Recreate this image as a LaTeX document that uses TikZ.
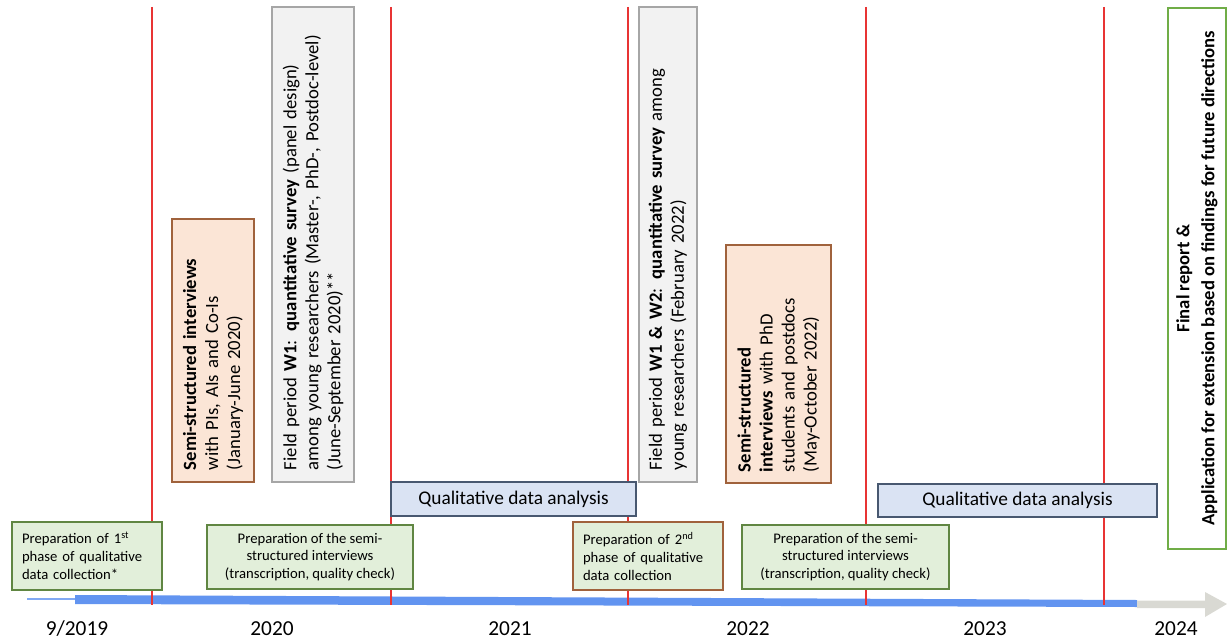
\documentclass[tikz,border=0pt]{standalone}
\usepackage{fontspec}
\setmainfont{Carlito}
\usetikzlibrary{positioning}
\definecolor{cred}{RGB}{232,52,52}
\definecolor{cband}{RGB}{98,148,240}
\definecolor{carrow}{RGB}{217,217,211}
\definecolor{cgreenfill}{RGB}{226,239,218}
\definecolor{cgreen}{RGB}{96,134,66}
\definecolor{cbrown}{RGB}{160,98,60}
\definecolor{corangefill}{RGB}{251,229,214}
\definecolor{cgreyfill}{RGB}{242,242,242}
\definecolor{cgrey}{RGB}{166,166,166}
\definecolor{cbluefill}{RGB}{218,227,243}
\definecolor{cblue}{RGB}{72,88,112}
\definecolor{clime}{RGB}{112,173,71}
\tikzset{
  prepbox/.style={rectangle,fill=cgreenfill,draw=cgreen,line width=0.8pt,
    inner sep=0pt,align=center,font=\fontsize{11}{13.4}\selectfont},
  leftbox/.style={prepbox,align=left,text width=97.5pt,
    minimum width=112.5pt,minimum height=51pt},
  midbox/.style={prepbox,minimum height=48pt},
  qualbox/.style={rectangle,fill=cbluefill,draw=cblue,line width=0.8pt,
    inner sep=0pt,font=\fontsize{14.5}{17}\selectfont},
  % vertical boxes: rotated, text starts at the bottom
  vbox/.style={rectangle,rotate=90,line width=0.8pt,inner sep=0pt,
    align=left,font=\fontsize{14}{16.5}\selectfont},
  intbox/.style={vbox,fill=corangefill,draw=cbrown},
  survbox/.style={vbox,fill=cgreyfill,draw=cgrey},
  year/.style={anchor=base,font=\fontsize{16}{19}\selectfont},
  sep/.style={cred,line width=0.8pt}
}
\begin{document}
\begin{tikzpicture}[x=0.75pt,y=-0.75pt]
  \useasboundingbox (0,0) rectangle (1227,638);
  % time axis
  \draw[cband!80,line width=0.8pt] (27,599) -- (75,599);
  \fill[cband] (75,595) -- (1137,600) -- (1137,607) -- (75,604) -- cycle;
  \fill[carrow] (1137,600.5) -- (1205,600.5) -- (1205,592) -- (1227,604)
    -- (1205,617) -- (1205,608) -- (1137,608) -- cycle;
  \foreach \x in {152,391,628,866,1104}
    \draw[sep] (\x,7) -- (\x,605);
  \node[year] (y2019) at (77,635) {9/2019};
  \node[year] (y2020) at (272,635) {2020};
  \node[year] (y2021) at (510,635) {2021};
  \node[year] (y2022) at (748,635) {2022};
  \node[year] (y2023) at (985,635) {2023};
  \node[year] (y2024) at (1176,635) {2024};
  % preparation phases
  \node[leftbox] (prep1) at (87,556)
    {Preparation of 1\textsuperscript{st}\\phase of qualitative\\data collection*};
  \node[midbox,minimum width=154.5pt] (semiprep1) at (310,557)
    {Preparation of the semi-\\structured interviews\\(transcription, quality check)};
  \node[leftbox,draw=cbrown] (prep2) at (648,556)
    {Preparation of 2\textsuperscript{nd}\\phase of qualitative\\data collection};
  \node[midbox,minimum width=155.25pt] (semiprep2) at (845.5,557)
    {Preparation of the semi-\\structured interviews\\(transcription, quality check)};
  \node[qualbox,minimum width=183.75pt,minimum height=25.5pt] (qual1) at (513.5,499)
    {Qualitative data analysis};
  \node[qualbox,minimum width=209.25pt,minimum height=24.75pt] (qual2) at (1017.5,500.5)
    {Qualitative data analysis};
  % interviews and surveys
  \node[intbox,minimum width=197.25pt,minimum height=61.5pt,text width=179.25pt]
    (semi1) at (213,350.5)
    {\textbf{Semi-structured interviews}\\with PIs, AIs and Co-Is\\(January-June 2020)};
  \node[survbox,minimum width=356.25pt,minimum height=61.5pt,text width=338.25pt]
    (survey1) at (313,244.5)
    {Field period \textbf{W1}: \textbf{quantitative survey} (panel design)\\
     among young researchers (Master-, PhD-, Postdoc-level)\\
     (June-September 2020)**};
  \node[survbox,minimum width=356.25pt,minimum height=43.5pt,text width=338.25pt]
    (survey2) at (668,244.5)
    {Field period \textbf{W1 \& W2}: \textbf{quantitative survey} among\\
     young researchers (February 2022)};
  \node[intbox,minimum width=178.5pt,minimum height=78.75pt,text width=162pt]
    (semi2) at (778.5,364)
    {\textbf{Semi-structured}\\\textbf{interviews} with PhD\\students and postdocs\\(May-October 2022)};
  \node[vbox,draw=clime,fill=white,align=center,minimum width=405.75pt,
    minimum height=43.5pt,font=\fontsize{14}{18.75}\selectfont\bfseries]
    (final) at (1197,278.5)
    {Final report \&\\Application for extension based on findings for future directions};
\end{tikzpicture}
\end{document}
